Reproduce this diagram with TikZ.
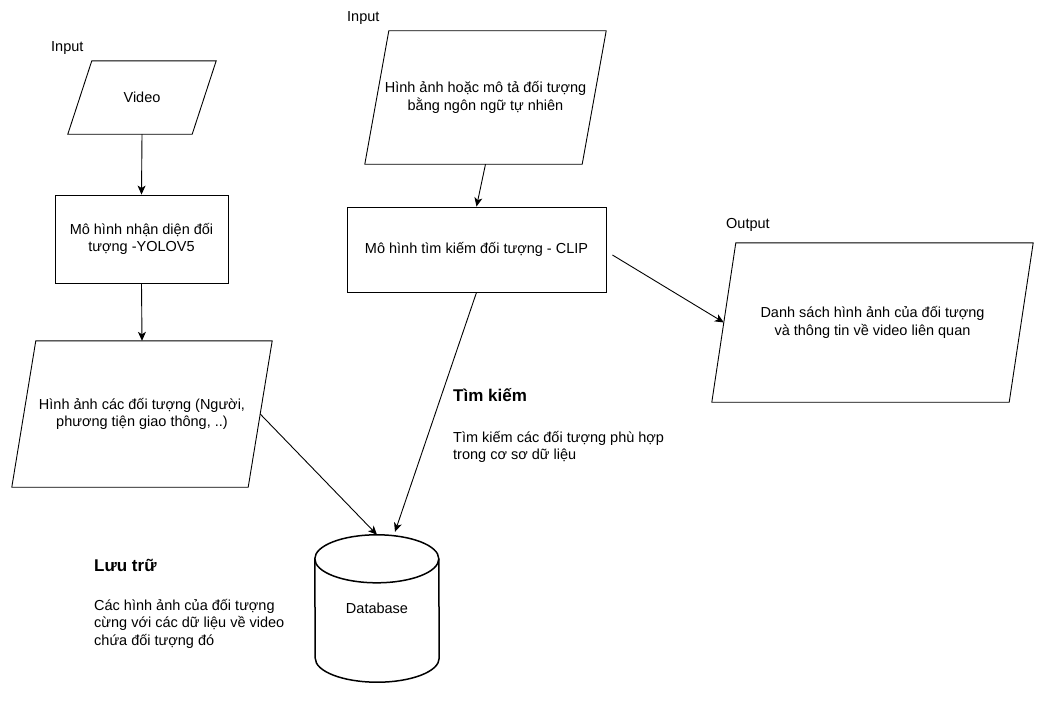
\documentclass[tikz,border=0pt]{standalone}
\usepackage{fontspec}
\setmainfont{Liberation Sans}
\usetikzlibrary{arrows.meta,positioning}

\tikzset{
  every node/.style={font=\fontsize{14.5}{17.5}\selectfont},
  inout/.style={rectangle, align=center, inner sep=0pt},
  procbox/.style={draw, rectangle, align=center, line width=0.9pt},
  flow/.style={-{Stealth[length=9pt,width=8pt,inset=2.5pt]}, line width=0.9pt},
  heading/.style={font=\fontsize{17}{20}\selectfont\bfseries, anchor=west, inner sep=0pt},
  note/.style={anchor=north west, align=left, inner sep=0pt},
  tag/.style={anchor=west, inner sep=0pt},
}
% slanted input/output frame around a node (#1 = node, #2 = slant)
\newcommand{\paraframe}[2]{%
  \draw[line width=0.9pt] ([xshift=#2]#1.north west) -- (#1.north east)
    -- ([xshift=-#2]#1.south east) -- (#1.south west) -- cycle;}

\begin{document}
\begin{tikzpicture}[x=1pt,y=-1pt]
  \useasboundingbox (0,0) rectangle (1064,701);

  % left column: detection
  \node[tag] (inleft) at (51,48) {Input};
  \node[inout, minimum width=148pt, minimum height=73pt] (video) at (142,97.5) {Video};
  \paraframe{video}{24pt}
  \node[procbox, minimum width=173pt, minimum height=88pt] (yolo) at (141.5,239)
        {Mô hình nhận diện đối\\tượng -YOLOV5};
  \node[inout, minimum width=260pt, minimum height=146pt] (objs) at (142,414)
        {Hình ảnh các đối tượng (Người,\\phương tiện giao thông, ..)};
  \paraframe{objs}{24pt}

  % middle column: search
  \node[tag] (inmid) at (347,18) {Input};
  \node[inout, minimum width=241pt, minimum height=133pt] (query) at (485.5,97.5)
        {Hình ảnh hoặc mô tả đối tượng\\bằng ngôn ngữ tự nhiên};
  \paraframe{query}{24pt}
  \node[procbox, minimum width=259pt, minimum height=85pt] (clip) at (476.5,249.5)
        {Mô hình tìm kiếm đối tượng - CLIP};

  % right: result
  \node[tag] (outlbl) at (726,225) {Output};
  \node[inout, minimum width=321pt, minimum height=159pt] (result) at (872.5,322.5)
        {Danh sách hình ảnh của đối tượng\\và thông tin về video liên quan};
  \paraframe{result}{24pt}

  % database
  \node[minimum width=124pt, minimum height=147pt, inner sep=0pt] (db) at (377,608.5) {Database};
  \draw[line width=1.5pt] ([yshift=-24pt]db.north west)
        arc[start angle=180, end angle=0, x radius=62pt, y radius=24pt]
        -- ([yshift=24pt]db.south east)
        arc[start angle=0, end angle=-180, x radius=62pt, y radius=24pt] -- cycle;
  \draw[line width=1.5pt] ([yshift=-24pt]db.north west)
        arc[start angle=180, end angle=360, x radius=62pt, y radius=24pt];

  % notes
  \node[heading] (searchhd) at (453,395) {Tìm kiếm};
  \node[note] (searchtx) at (453,431) {Tìm kiếm các đối tượng phù hợp\\trong cơ sơ dữ liệu};
  \node[heading] (storehd) at (94,565) {Lưu trữ};
  \node[note] (storetx) at (94,599) {Các hình ảnh của đối tượng\\cừng với các dữ liệu về video\\chứa đối tượng đó};

  % connectors
  \draw[flow] (video.south) -- (yolo.north);
  \draw[flow] (yolo.south) -- (objs.north);
  \draw[flow] (query.south) -- (clip.north);
  \draw[flow] ([xshift=6pt,yshift=-5.5pt]clip.east) -- ([xshift=12pt]result.west);
  \draw[flow] ([xshift=-12pt]objs.east) -- (db.north);
  \draw[flow] (clip.south) -- ([xshift=18pt,yshift=3pt]db.north);
\end{tikzpicture}
\end{document}
